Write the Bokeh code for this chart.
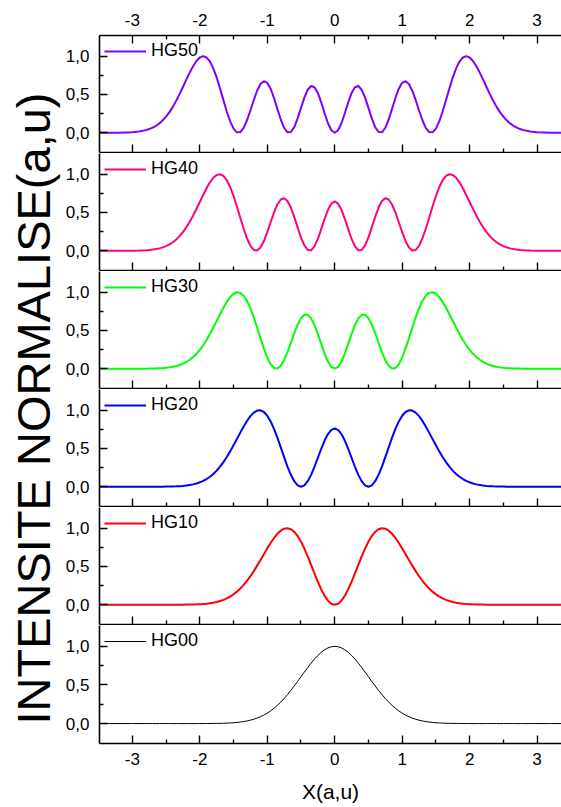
import math
from bokeh.plotting import figure
from bokeh.models import (FixedTicker, CustomJSTickFormatter, LinearAxis, Legend,
                          LegendItem, Label, Range1d)
from bokeh.layouts import row, column
from bokeh.embed import file_html
from bokeh.resources import INLINE

# ---------------- data ----------------
X = [-3.5, -3.2, -3.0, -2.9, -2.8, -2.75, -2.7, -2.65, -2.6, -2.55,
     -2.5, -2.45, -2.4, -2.35, -2.3, -2.25, -2.2, -2.15, -2.1, -2.05,
     -2.0, -1.95, -1.9, -1.85, -1.8, -1.75, -1.7, -1.65, -1.6, -1.55,
     -1.5, -1.45, -1.4, -1.35, -1.3, -1.25, -1.2, -1.15, -1.1, -1.05,
     -1.0, -0.95, -0.9, -0.85, -0.8, -0.75, -0.7, -0.65, -0.6, -0.55,
     -0.5, -0.45, -0.4, -0.35, -0.3, -0.25, -0.2, -0.15, -0.1, -0.05,
     0.0,
     0.05, 0.1, 0.15, 0.2, 0.25, 0.3, 0.35, 0.4, 0.45, 0.5,
     0.55, 0.6, 0.65, 0.7, 0.75, 0.8, 0.85, 0.9, 0.95, 1.0,
     1.05, 1.1, 1.15, 1.2, 1.25, 1.3, 1.35, 1.4, 1.45, 1.5,
     1.55, 1.6, 1.65, 1.7, 1.75, 1.8, 1.85, 1.9, 1.95, 2.0,
     2.05, 2.1, 2.15, 2.2, 2.25, 2.3, 2.35, 2.4, 2.45, 2.5,
     2.55, 2.6, 2.65, 2.7, 2.75, 2.8, 2.9, 3.0, 3.2, 3.5]

HG50 = [0.000, 0.001, 0.007, 0.016, 0.034, 0.048, 0.066, 0.091, 0.122, 0.162,
        0.211, 0.269, 0.338, 0.417, 0.504, 0.597, 0.693, 0.785, 0.869, 0.937,
        0.983, 1.000, 0.983, 0.930, 0.841, 0.722, 0.579, 0.426, 0.277, 0.148,
        0.054, 0.005, 0.009, 0.064, 0.163, 0.291, 0.427, 0.549, 0.636, 0.673,
        0.652, 0.575, 0.454, 0.312, 0.173, 0.065, 0.006, 0.010, 0.074, 0.187,
        0.325, 0.459, 0.561, 0.610, 0.594, 0.518, 0.396, 0.255, 0.124, 0.033,
        0.000,
        0.033, 0.124, 0.255, 0.396, 0.518, 0.594, 0.610, 0.561, 0.459, 0.325,
        0.187, 0.074, 0.010, 0.006, 0.065, 0.173, 0.312, 0.454, 0.575, 0.652,
        0.673, 0.636, 0.549, 0.427, 0.291, 0.163, 0.064, 0.009, 0.005, 0.054,
        0.148, 0.277, 0.426, 0.579, 0.722, 0.841, 0.930, 0.983, 1.000, 0.983,
        0.937, 0.869, 0.785, 0.693, 0.597, 0.504, 0.417, 0.338, 0.269, 0.211,
        0.162, 0.122, 0.091, 0.066, 0.048, 0.034, 0.016, 0.007, 0.001, 0.000]

HG40 = [0.000, 0.000, 0.001, 0.003, 0.007, 0.010, 0.015, 0.022, 0.031, 0.044,
        0.061, 0.083, 0.111, 0.147, 0.191, 0.244, 0.306, 0.378, 0.458, 0.546,
        0.637, 0.729, 0.816, 0.893, 0.953, 0.990, 0.999, 0.977, 0.921, 0.832,
        0.715, 0.578, 0.431, 0.287, 0.161, 0.065, 0.011, 0.003, 0.043, 0.127,
        0.242, 0.372, 0.500, 0.604, 0.670, 0.686, 0.649, 0.564, 0.443, 0.305,
        0.173, 0.069, 0.010, 0.005, 0.056, 0.154, 0.282, 0.416, 0.535, 0.615,
        0.644,
        0.615, 0.535, 0.416, 0.282, 0.154, 0.056, 0.005, 0.010, 0.069, 0.173,
        0.305, 0.443, 0.564, 0.649, 0.686, 0.670, 0.604, 0.500, 0.372, 0.242,
        0.127, 0.043, 0.003, 0.011, 0.065, 0.161, 0.287, 0.431, 0.578, 0.715,
        0.832, 0.921, 0.977, 0.999, 0.990, 0.953, 0.893, 0.816, 0.729, 0.637,
        0.546, 0.458, 0.378, 0.306, 0.244, 0.191, 0.147, 0.111, 0.083, 0.061,
        0.044, 0.031, 0.022, 0.015, 0.010, 0.007, 0.003, 0.001, 0.000, 0.000]

HG30 = [0.000, 0.000, 0.000, 0.000, 0.001, 0.002, 0.003, 0.004, 0.006, 0.008,
        0.012, 0.018, 0.025, 0.035, 0.048, 0.066, 0.088, 0.117, 0.152, 0.195,
        0.247, 0.307, 0.376, 0.453, 0.537, 0.624, 0.712, 0.796, 0.873, 0.935,
        0.979, 0.999, 0.991, 0.954, 0.885, 0.789, 0.670, 0.536, 0.396, 0.263,
        0.147, 0.060, 0.010, 0.002, 0.038, 0.112, 0.217, 0.339, 0.464, 0.576,
        0.660, 0.705, 0.704, 0.657, 0.570, 0.454, 0.324, 0.198, 0.094, 0.024,
        0.000,
        0.024, 0.094, 0.198, 0.324, 0.454, 0.570, 0.657, 0.704, 0.705, 0.660,
        0.576, 0.464, 0.339, 0.217, 0.112, 0.038, 0.002, 0.010, 0.060, 0.147,
        0.263, 0.396, 0.536, 0.670, 0.789, 0.885, 0.954, 0.991, 0.999, 0.979,
        0.935, 0.873, 0.796, 0.712, 0.624, 0.537, 0.453, 0.376, 0.307, 0.247,
        0.195, 0.152, 0.117, 0.088, 0.066, 0.048, 0.035, 0.025, 0.018, 0.012,
        0.008, 0.006, 0.004, 0.003, 0.002, 0.001, 0.000, 0.000, 0.000, 0.000]

HG20 = [0.000, 0.000, 0.000, 0.000, 0.000, 0.000, 0.000, 0.000, 0.001, 0.001,
        0.002, 0.003, 0.004, 0.005, 0.008, 0.011, 0.016, 0.023, 0.031, 0.043,
        0.058, 0.077, 0.101, 0.131, 0.167, 0.211, 0.262, 0.322, 0.389, 0.462,
        0.541, 0.624, 0.707, 0.787, 0.860, 0.922, 0.968, 0.995, 0.998, 0.976,
        0.927, 0.853, 0.756, 0.641, 0.515, 0.386, 0.263, 0.156, 0.072, 0.018,
        0.000, 0.018, 0.072, 0.155, 0.261, 0.378, 0.496, 0.603, 0.688, 0.743,
        0.761,
        0.743, 0.688, 0.603, 0.496, 0.378, 0.261, 0.155, 0.072, 0.018, 0.000,
        0.018, 0.072, 0.156, 0.263, 0.386, 0.515, 0.641, 0.756, 0.853, 0.927,
        0.976, 0.998, 0.995, 0.968, 0.922, 0.860, 0.787, 0.707, 0.624, 0.541,
        0.462, 0.389, 0.322, 0.262, 0.211, 0.167, 0.131, 0.101, 0.077, 0.058,
        0.043, 0.031, 0.023, 0.016, 0.011, 0.008, 0.005, 0.004, 0.003, 0.002,
        0.001, 0.001, 0.000, 0.000, 0.000, 0.000, 0.000, 0.000, 0.000, 0.000]

HG10 = [0.000, 0.000, 0.000, 0.000, 0.000, 0.000, 0.000, 0.000, 0.000, 0.000,
        0.000, 0.000, 0.000, 0.000, 0.001, 0.001, 0.002, 0.002, 0.004, 0.005,
        0.007, 0.010, 0.014, 0.020, 0.027, 0.036, 0.049, 0.064, 0.083, 0.107,
        0.136, 0.171, 0.211, 0.259, 0.313, 0.373, 0.439, 0.511, 0.585, 0.661,
        0.736, 0.807, 0.872, 0.926, 0.967, 0.993, 1.000, 0.987, 0.953, 0.898,
        0.824, 0.734, 0.632, 0.521, 0.409, 0.300, 0.201, 0.117, 0.053, 0.013,
        0.000,
        0.013, 0.053, 0.117, 0.201, 0.300, 0.409, 0.521, 0.632, 0.734, 0.824,
        0.898, 0.953, 0.987, 1.000, 0.993, 0.967, 0.926, 0.872, 0.807, 0.736,
        0.661, 0.585, 0.511, 0.439, 0.373, 0.313, 0.259, 0.211, 0.171, 0.136,
        0.107, 0.083, 0.064, 0.049, 0.036, 0.027, 0.020, 0.014, 0.010, 0.007,
        0.005, 0.004, 0.002, 0.002, 0.001, 0.001, 0.000, 0.000, 0.000, 0.000,
        0.000, 0.000, 0.000, 0.000, 0.000, 0.000, 0.000, 0.000, 0.000, 0.000]

HG00 = [0.000, 0.000, 0.000, 0.000, 0.000, 0.000, 0.000, 0.000, 0.000, 0.000,
        0.000, 0.000, 0.000, 0.000, 0.000, 0.000, 0.000, 0.000, 0.000, 0.000,
        0.000, 0.000, 0.001, 0.001, 0.002, 0.002, 0.003, 0.004, 0.006, 0.008,
        0.011, 0.015, 0.020, 0.026, 0.034, 0.044, 0.056, 0.071, 0.089, 0.110,
        0.135, 0.164, 0.198, 0.236, 0.278, 0.325, 0.375, 0.430, 0.487, 0.546,
        0.607, 0.667, 0.726, 0.783, 0.835, 0.882, 0.923, 0.956, 0.980, 0.995,
        1.000,
        0.995, 0.980, 0.956, 0.923, 0.882, 0.835, 0.783, 0.726, 0.667, 0.607,
        0.546, 0.487, 0.430, 0.375, 0.325, 0.278, 0.236, 0.198, 0.164, 0.135,
        0.110, 0.089, 0.071, 0.056, 0.044, 0.034, 0.026, 0.020, 0.015, 0.011,
        0.008, 0.006, 0.004, 0.003, 0.002, 0.002, 0.001, 0.001, 0.000, 0.000,
        0.000, 0.000, 0.000, 0.000, 0.000, 0.000, 0.000, 0.000, 0.000, 0.000,
        0.000, 0.000, 0.000, 0.000, 0.000, 0.000, 0.000, 0.000, 0.000, 0.000]

NAMES = ["HG50", "HG40", "HG30", "HG20", "HG10", "HG00"]
VALUES = [HG50, HG40, HG30, HG20, HG10, HG00]
COLORS = ["#8000FF", "#FF0080", "#00FF00", "#0000FF", "#FF0000", "#000000"]
WIDTHS = [2, 2, 2, 2, 2, 1]

X_TICKS = [-3, -2, -1, 0, 1, 2, 3]
X_MINOR = [-2.5, -1.5, -0.5, 0.5, 1.5, 2.5]
Y_TICKS = [0.0, 0.5, 1.0]
Y_MINOR = [0.25, 0.75]
X_TITLE = "X(a,u)"
Y_TITLE = "INTENSITE NORMALISE(a,u)"

for v in VALUES:
    assert len(v) == len(X), len(v)

# ---------------- layout ----------------
FONT = "Liberation Sans"
TITLE_W = 62
PANEL_W = 561 - TITLE_W
FRAME_LEFT = 35
TOP = 35
BOTTOM = 64

xfmt = CustomJSTickFormatter(code="return tick.toFixed(0);")
nofmt = CustomJSTickFormatter(code="return '';")
yfmt = CustomJSTickFormatter(code="return tick.toFixed(1).replace('.', ',');")


def x_axis(labels, **kw):
    ax = LinearAxis(ticker=FixedTicker(ticks=X_TICKS, minor_ticks=X_MINOR),
                    formatter=xfmt if labels else nofmt,
                    major_tick_in=8, major_tick_out=0,
                    minor_tick_in=4, minor_tick_out=0,
                    axis_line_width=1.6, major_tick_line_width=1.4,
                    minor_tick_line_width=1.4,
                    major_label_text_font=FONT,
                    major_label_text_font_size="17px",
                    major_label_text_color="#000000", **kw)
    if not labels:
        ax.major_label_standoff = 0
    return ax


figs = []
n = len(NAMES)
for i in range(n):
    first = i == 0
    last = i == n - 1
    mt = TOP if first else 0
    mb = BOTTOM if last else 1
    fh = 118 if last else 117
    p = figure(width=PANEL_W, height=fh + mt + mb,
               x_range=Range1d(-3.487, 3.362), y_range=Range1d(-0.258, 1.27),
               output_backend="svg", toolbar_location=None,
               x_axis_location=None, y_axis_location=None,
               min_border_left=FRAME_LEFT, min_border_right=0,
               min_border_top=mt, min_border_bottom=mb)
    p.outline_line_color = None
    p.xgrid.grid_line_color = None
    p.ygrid.grid_line_color = None
    p.background_fill_color = "white"
    p.border_fill_color = "white"

    yax = LinearAxis(ticker=FixedTicker(ticks=Y_TICKS, minor_ticks=Y_MINOR),
                     formatter=yfmt,
                     major_tick_in=8, major_tick_out=0,
                     minor_tick_in=4, minor_tick_out=0,
                     axis_line_width=1.6, major_tick_line_width=1.4,
                     minor_tick_line_width=1.4,
                     major_label_standoff=10,
                     major_label_text_font=FONT,
                     major_label_text_font_size="17px",
                     major_label_text_color="#000000")
    p.add_layout(yax, "left")

    if first:
        p.add_layout(x_axis(True, major_label_standoff=10), "above")
    if last:
        bx = x_axis(True, major_label_standoff=9, axis_label=X_TITLE,
                    axis_label_text_font=FONT, axis_label_text_font_size="21px",
                    axis_label_text_font_style="normal",
                    axis_label_text_color="#000000",
                    axis_label_standoff=12)
        p.add_layout(bx, "below")
    else:
        p.add_layout(x_axis(False), "below")

    r = p.line(X, VALUES[i], line_color=COLORS[i], line_width=WIDTHS[i],
               line_join="round")
    leg = Legend(items=[LegendItem(label=NAMES[i], renderers=[r])],
                 location="top_left", margin=5, padding=8,
                 glyph_width=42, glyph_height=18, label_height=18,
                 label_standoff=5, label_text_font=FONT,
                 label_text_font_size="18px", label_text_color="#000000",
                 border_line_color=None, background_fill_color="white",
                 background_fill_alpha=0.0)
    p.add_layout(leg)
    figs.append(p)

t = figure(width=TITLE_W, height=807, x_range=Range1d(0, TITLE_W),
           y_range=Range1d(0, 807), output_backend="svg", toolbar_location=None,
           x_axis_location=None, y_axis_location=None, min_border=0)
t.outline_line_color = None
t.xgrid.grid_line_color = None
t.ygrid.grid_line_color = None
t.add_layout(Label(x=33, y=807 - 408, text=Y_TITLE, angle=math.pi / 2,
                   text_align="center", text_baseline="alphabetic",
                   text_font=FONT, text_font_size="47px",
                   text_color="#000000"))

layout = row(t, column(*figs, spacing=0), spacing=0)
open("out.html", "w").write(file_html(layout, INLINE))
